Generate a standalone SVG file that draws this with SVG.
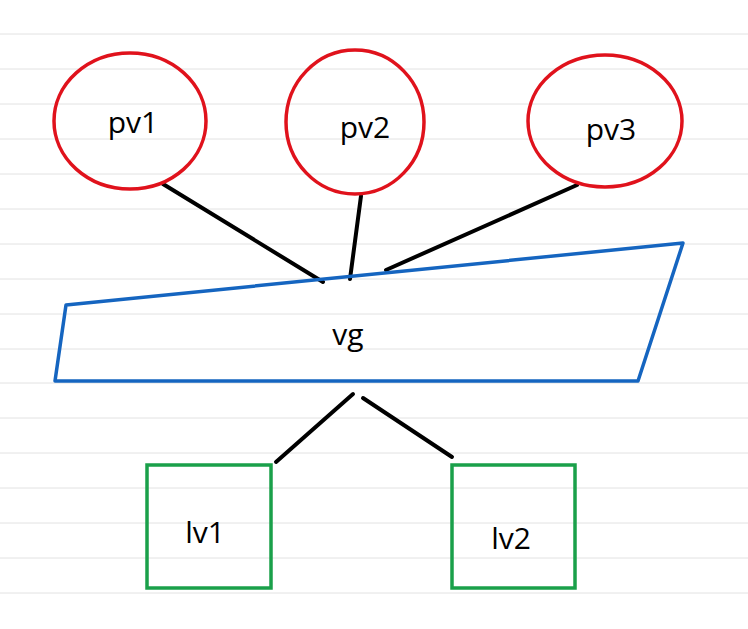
<svg xmlns="http://www.w3.org/2000/svg" width="748" height="629" viewBox="0 0 748 629">
<style>
.g{stroke:#e2e2e2;stroke-width:1}
.pv{fill:none;stroke:#e0121c;stroke-width:3.5}
.lv{fill:none;stroke:#1aa04a;stroke-width:3.5}
.vg{fill:none;stroke:#1565c0;stroke-width:3.5;stroke-linejoin:round}
.c{stroke:#000;stroke-width:4;stroke-linecap:round}
text{font-family:"Open Sans","Liberation Sans",sans-serif;font-size:30px;fill:#000;text-anchor:middle;dominant-baseline:central}
</style>
<rect width="748" height="629" fill="#fff"/>
<g id="grid">
<line class="g" x1="0" x2="748" y1="34" y2="34"/><line class="g" x1="0" x2="748" y1="69" y2="69"/><line class="g" x1="0" x2="748" y1="104" y2="104"/><line class="g" x1="0" x2="748" y1="139" y2="139"/><line class="g" x1="0" x2="748" y1="174" y2="174"/><line class="g" x1="0" x2="748" y1="209" y2="209"/><line class="g" x1="0" x2="748" y1="244" y2="244"/><line class="g" x1="0" x2="748" y1="279" y2="279"/><line class="g" x1="0" x2="748" y1="314" y2="314"/><line class="g" x1="0" x2="748" y1="349" y2="349"/><line class="g" x1="0" x2="748" y1="383" y2="383"/><line class="g" x1="0" x2="748" y1="418" y2="418"/><line class="g" x1="0" x2="748" y1="453" y2="453"/><line class="g" x1="0" x2="748" y1="488" y2="488"/><line class="g" x1="0" x2="748" y1="523" y2="523"/><line class="g" x1="0" x2="748" y1="558" y2="558"/><line class="g" x1="0" x2="748" y1="593" y2="593"/>
</g>
<g id="connectors">
<line class="c" x1="163" y1="184" x2="323" y2="282"/>
<line class="c" x1="361" y1="196" x2="350" y2="279"/>
<line class="c" x1="577" y1="185" x2="386" y2="270"/>
<line class="c" x1="353" y1="394" x2="276" y2="462"/>
<line class="c" x1="363" y1="398" x2="452" y2="457"/>
</g>
<g id="pv1"><ellipse class="pv" cx="130" cy="121" rx="76" ry="68"/><text x="133" y="121">pv1</text></g>
<g id="pv2"><ellipse class="pv" cx="355" cy="122" rx="69" ry="72"/><text x="365" y="126">pv2</text></g>
<g id="pv3"><ellipse class="pv" cx="605" cy="121" rx="77" ry="66"/><text x="611" y="128">pv3</text></g>
<g id="vg"><polygon class="vg" points="66,305 683,243 638,381 55,381"/><text x="348" y="333">vg</text></g>
<g id="lv1"><rect class="lv" x="147" y="465" width="124" height="123"/><text x="205" y="531">lv1</text></g>
<g id="lv2"><rect class="lv" x="452" y="465" width="123" height="123"/><text x="511" y="537">lv2</text></g>
</svg>
